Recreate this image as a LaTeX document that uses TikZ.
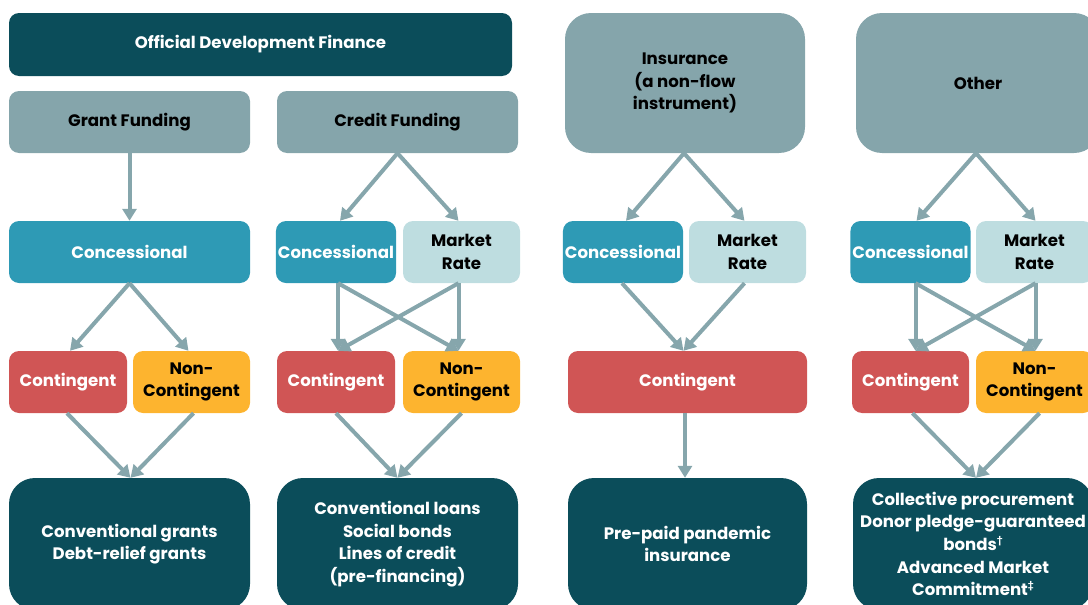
\documentclass[tikz,border=0pt]{standalone}
\usepackage{fontspec}
\setmainfont{Poppins}
\usetikzlibrary{arrows.meta,positioning}
\definecolor{dark}{HTML}{0B4D5A}
\definecolor{greybox}{HTML}{85A5AB}
\definecolor{conc}{HTML}{2E9AB5}
\definecolor{market}{HTML}{BEDDE0}
\definecolor{contg}{HTML}{D05555}
\definecolor{noncontg}{HTML}{FDB42F}
\definecolor{arrowc}{HTML}{86A6AC}
\newcommand{\supmark}[1]{\raisebox{0.45em}{\fontsize{9}{9}\selectfont #1}}
\tikzset{
  box/.style={rectangle, rounded corners=10pt, inner sep=2pt, align=center,
    font=\fontsize{16.6}{22.6}\selectfont\bfseries},
  bigbox/.style={box, rounded corners=26pt},
  darkbox/.style={box, fill=dark, text=white},
  greyb/.style={box, fill=greybox, text=black},
  concb/.style={box, fill=conc, text=white},
  marketb/.style={box, fill=market, text=black},
  contb/.style={box, fill=contg, text=white},
  noncb/.style={box, fill=noncontg, text=black},
  arr/.style={draw=arrowc, line width=4pt, -{Triangle[length=12pt,width=14pt]}, shorten >=0pt},
}
\begin{document}
\begin{tikzpicture}[x=1pt,y=-1pt]
\useasboundingbox (0,0) rectangle (1088,605);
\begin{scope}
\clip (0,0) rectangle (1088,605);
% top row
\node[darkbox, minimum width=503pt, minimum height=63pt] (odf) at (260.5,44.5) {Official Development Finance};
\node[greyb, minimum width=241pt, minimum height=62pt] (gf) at (129.5,122) {Grant Funding};
\node[greyb, minimum width=241pt, minimum height=62pt] (cf) at (397.5,122) {Credit Funding};
\node[greyb, bigbox, minimum width=240pt, minimum height=140pt] (ins) at (685,83) {Insurance\\(a non-flow\\instrument)};
\node[greyb, bigbox, minimum width=244pt, minimum height=140pt] (oth) at (978,83) {Other};
% row 2
\node[concb, minimum width=241pt, minimum height=62pt] (gc) at (129.5,252) {Concessional};
\node[concb, minimum width=118pt, minimum height=62pt] (cc) at (336,252) {Concessional};
\node[marketb, minimum width=117pt, minimum height=62pt] (cm) at (461.5,252) {Market\\Rate};
\node[concb, minimum width=116pt, minimum height=62pt] (ic) at (623,252) {Concessional};
\node[marketb, minimum width=117pt, minimum height=62pt] (im) at (747.5,252) {Market\\Rate};
\node[concb, minimum width=117pt, minimum height=62pt] (oc) at (910.5,252) {Concessional};
\node[marketb, minimum width=117pt, minimum height=62pt] (om) at (1034.5,252) {Market\\Rate};
% row 3
\node[contb, minimum width=118pt, minimum height=62pt] (gk) at (68,382) {Contingent};
\node[noncb, minimum width=117pt, minimum height=62pt] (gn) at (191.5,382) {Non-\\Contingent};
\node[contb, minimum width=118pt, minimum height=62pt] (ck) at (336,382) {Contingent};
\node[noncb, minimum width=117pt, minimum height=62pt] (cn) at (461.5,382) {Non-\\Contingent};
\node[contb, minimum width=239pt, minimum height=62pt] (ik) at (687.5,382) {Contingent};
\node[contb, minimum width=117pt, minimum height=62pt] (ok) at (910.5,382) {Contingent};
\node[noncb, minimum width=117pt, minimum height=62pt] (on) at (1034.5,382) {Non-\\Contingent};
% row 4
\node[darkbox, bigbox, minimum width=241pt, minimum height=132pt] (gr) at (129.5,544) {Conventional grants\\Debt-relief grants};
\node[darkbox, bigbox, minimum width=241pt, minimum height=132pt] (cr) at (397.5,544) {Conventional loans\\Social bonds\\Lines of credit\\(pre-financing)};
\node[darkbox, bigbox, minimum width=239pt, minimum height=132pt] (ir) at (687.5,544) {Pre-paid pandemic\\insurance};
\node[darkbox, bigbox, minimum width=240pt, minimum height=132pt] (or) at (973,544) {Collective procurement\\Donor pledge-guaranteed\\bonds\supmark{†}\\Advanced Market\\Commitment\supmark{‡}};
% arrows grant
\draw[arr] (gf.south) -- (gc.north);
\draw[arr] (gc.south) -- ([xshift=2pt]gk.north);
\draw[arr] (gc.south) -- ([xshift=-3pt]gn.north);
\draw[arr] ([xshift=-1pt]gk.south) -- ([xshift=1pt]gr.north);
\draw[arr] ([xshift=2pt]gn.south) -- ([xshift=1pt]gr.north);
% arrows credit
\draw[arr] (cf.south) -- ([xshift=4pt]cc.north);
\draw[arr] (cf.south) -- ([xshift=-3pt]cm.north);
\draw[arr] ([xshift=2pt]cc.south) -- ([xshift=2pt]ck.north);
\draw[arr] ([xshift=2pt]cc.south) -- ([xshift=-3pt]cn.north);
\draw[arr] ([xshift=-3pt]cm.south) -- ([xshift=-3pt]cn.north);
\draw[arr] ([xshift=-3pt]cm.south) -- ([xshift=2pt]ck.north);
\draw[arr] (ck.south) -- (cr.north);
\draw[arr] (cn.south) -- (cr.north);
% arrows insurance
\draw[arr] ([xshift=-1pt]ins.south) -- ([xshift=3pt]ic.north);
\draw[arr] ([xshift=-1pt]ins.south) -- ([xshift=-3pt]im.north);
\draw[arr] ([xshift=-1pt]ic.south) -- ([xshift=-4pt]ik.north);
\draw[arr] ([xshift=-3pt]im.south) -- ([xshift=-4pt]ik.north);
\draw[arr] ([xshift=-2.5pt]ik.south) -- ([xshift=-2.5pt]ir.north);
% arrows other
\draw[arr] ([xshift=-2pt]oth.south) -- ([xshift=6pt]oc.north);
\draw[arr] ([xshift=-2pt]oth.south) -- ([xshift=1pt]om.north);
\draw[arr] ([xshift=5pt]oc.south) -- ([xshift=5pt]ok.north);
\draw[arr] ([xshift=5pt]oc.south) -- ([xshift=1pt]on.north);
\draw[arr] ([xshift=1pt]om.south) -- ([xshift=1pt]on.north);
\draw[arr] ([xshift=1pt]om.south) -- ([xshift=5pt]ok.north);
\draw[arr] ([xshift=2pt]ok.south) -- ([xshift=3pt]or.north);
\draw[arr] ([xshift=5pt]on.south) -- ([xshift=3pt]or.north);
\end{scope}
\end{tikzpicture}
\end{document}
